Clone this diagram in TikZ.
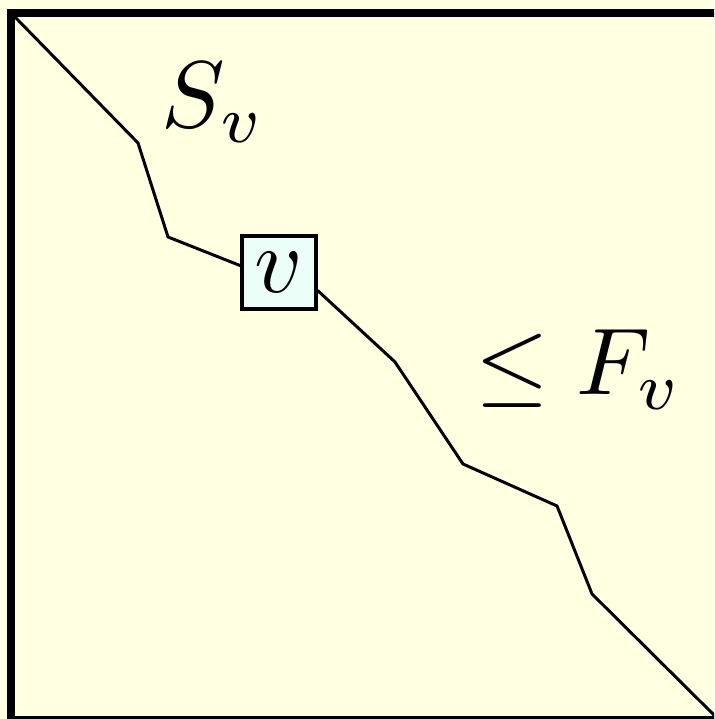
\documentclass[tikz,border=0pt]{standalone}
\definecolor{bgyellow}{RGB}{255,255,225}
\definecolor{boxcyan}{RGB}{235,255,248}
\begin{document}
\begin{tikzpicture}[x=0.10753pt,y=-0.10753pt,
  pathline/.style={line width=0.32pt,line join=miter},
  vbox/.style={draw,line width=0.35pt,fill=boxcyan,minimum width=74*0.10753pt,minimum height=73*0.10753pt,inner sep=0pt,font=\normalsize},
  lbl/.style={inner sep=0pt,font=\normalsize}]
\useasboundingbox (0,0) rectangle (714,719);
\clip (0,0) rectangle (714,719);
\fill[bgyellow] (0,0) rectangle (714,719);
\coordinate (c0) at (11,13);
\coordinate (p1) at (138,143);
\coordinate (p2) at (168,237);
\coordinate (p3) at (395,362);
\coordinate (p4) at (463,464);
\coordinate (p5) at (557,506);
\coordinate (p6) at (592,594);
\coordinate (c1) at (720,721);
\node[vbox] (v) at (279,272.5) {$v$};
\draw[pathline] (c0) -- (p1) -- (p2) -- (v.170);
\draw[pathline] (v.-25) -- (p3) -- (p4) -- (p5) -- (p6) -- (c1);
\node[lbl,anchor=base west,scale=1.02] (sv) at (160,128) {$S_v$};
\node[lbl,anchor=base west,scale=1.02] (fv) at (474,395) {$\leq F_v$};
\draw[line width=8*0.10753pt] (11,13) rectangle (740,720);
\end{tikzpicture}
\end{document}
